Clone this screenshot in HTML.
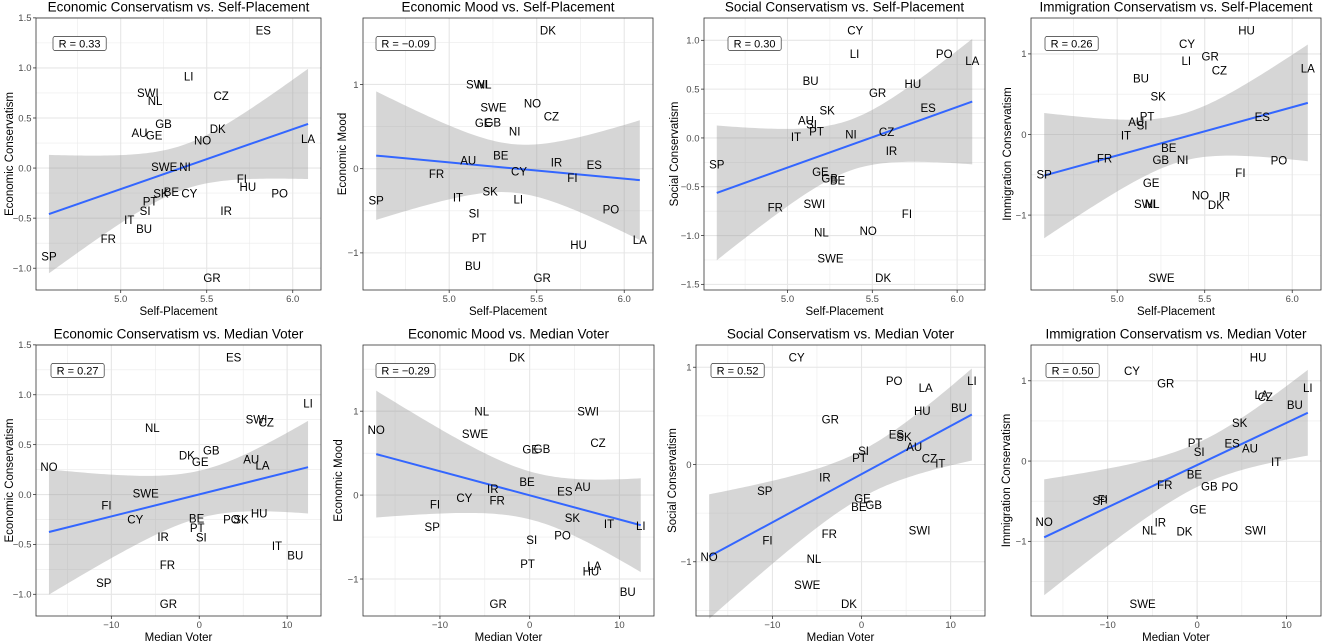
<!DOCTYPE html>
<html><head><meta charset="utf-8">
<style>
html,body{margin:0;padding:0;background:#fff;}
svg{display:block;font-family:"Liberation Sans",Arial,sans-serif;}
</style></head>
<body>
<svg id="chart" width="1322" height="642" viewBox="0 0 1322 642" xmlns="http://www.w3.org/2000/svg"></svg>
<script>
const countries = ["ES","LI","SWI","NL","CZ","GB","AU","GE","DK","NO","LA","SWE","NI","FI","HU","PO","SK","BE","CY","PT","SI","IR","IT","BU","FR","SP","GR"];
const selfPlacement = [5.829,5.395,5.158,5.200,5.584,5.249,5.109,5.194,5.564,5.476,6.089,5.253,5.374,5.704,5.739,5.924,5.234,5.295,5.399,5.171,5.142,5.613,5.050,5.136,4.928,4.583,5.531];
const medianVoter = [3.92,12.38,6.51,-5.34,7.62,1.37,5.91,0.11,-1.41,-17.1,7.2,-6.09,null,-10.55,6.82,3.66,4.76,-0.30,-7.28,-0.23,0.23,-4.11,8.84,10.93,-3.62,-10.86,-3.51];
const econCons = [1.375,0.914,0.753,0.670,0.723,0.442,0.351,0.325,0.392,0.278,0.291,0.014,0.01,-0.11,-0.187,-0.251,-0.251,-0.237,-0.251,-0.334,-0.428,-0.425,-0.515,-0.608,-0.706,-0.884,-1.094];
const econMood = [0.043,-0.366,0.998,0.998,0.62,0.552,0.099,0.544,1.642,0.776,-0.844,0.728,0.445,-0.112,-0.907,-0.482,-0.271,0.159,-0.032,-0.82,-0.533,0.075,-0.342,-1.154,-0.06,-0.378,-1.294];
const socialCons = [0.309,0.859,-0.676,-0.968,0.062,-0.415,0.182,-0.346,-1.431,-0.951,0.79,-1.236,0.038,-0.779,0.553,0.859,0.285,-0.436,1.102,0.069,0.138,-0.130,0.01,0.584,-0.711,-0.271,0.463];
const immigCons = [0.219,0.914,-0.86,-0.86,0.798,-0.312,0.157,-0.603,-0.873,-0.757,0.823,-1.776,-0.312,-0.479,1.292,-0.324,0.474,-0.167,1.126,0.228,0.116,-0.766,-0.009,0.698,-0.299,-0.495,0.968];
const xTicksSelf = [5.0,5.5,6.0];
const xTicksMedian = [-10,0,10];
const yTicksEcon = [-1.0,-0.5,0.0,0.5,1.0,1.5];
const yTicksUnit = [-1,0,1];
const yTicksSocialTop = [-1.5,-1.0,-0.5,0.0,0.5,1.0];

const panels = [
 {name:"econ-cons-self",title:"Economic Conservatism vs. Self-Placement",xt:"Self-Placement",yt:"Economic Conservatism",xs:selfPlacement,ys:econCons,xticks:xTicksSelf,yticks:yTicksEcon,xd:1,yd:1,L:36,R:321,T:18,B:290,ytx:9,rx:17},
 {name:"econ-mood-self",title:"Economic Mood vs. Self-Placement",xt:"Self-Placement",yt:"Economic Mood",xs:selfPlacement,ys:econMood,xticks:xTicksSelf,yticks:yTicksUnit,xd:1,yd:0,L:363,R:653,T:18,B:290,ytx:342,rx:13},
 {name:"social-cons-self",title:"Social Conservatism vs. Self-Placement",xt:"Self-Placement",yt:"Social Conservatism",xs:selfPlacement,ys:socialCons,xticks:xTicksSelf,yticks:yTicksSocialTop,xd:1,yd:1,L:704,R:985,T:18,B:290,ytx:674,rx:24},
 {name:"immig-cons-self",title:"Immigration Conservatism vs. Self-Placement",xt:"Self-Placement",yt:"Immigration Conservatism",xs:selfPlacement,ys:immigCons,xticks:xTicksSelf,yticks:yTicksUnit,xd:1,yd:0,L:1031,R:1321,T:18,B:290,ytx:1007,rx:14},
 {name:"econ-cons-median",title:"Economic Conservatism vs. Median Voter",xt:"Median Voter",yt:"Economic Conservatism",xs:medianVoter,ys:econCons,xticks:xTicksMedian,yticks:yTicksEcon,xd:0,yd:1,L:36,R:321,T:345,B:616,ytx:9,rx:15},
 {name:"econ-mood-median",title:"Economic Mood vs. Median Voter",xt:"Median Voter",yt:"Economic Mood",xs:medianVoter,ys:econMood,xticks:xTicksMedian,yticks:yTicksUnit,xd:0,yd:0,L:363,R:654,T:345,B:616,ytx:338,rx:13},
 {name:"social-cons-median",title:"Social Conservatism vs. Median Voter",xt:"Median Voter",yt:"Social Conservatism",xs:medianVoter,ys:socialCons,xticks:xTicksMedian,yticks:yTicksUnit,xd:0,yd:0,L:696,R:985,T:345,B:616,ytx:672,rx:15},
 {name:"immig-cons-median",title:"Immigration Conservatism vs. Median Voter",xt:"Median Voter",yt:"Immigration Conservatism",xs:medianVoter,ys:immigCons,xticks:xTicksMedian,yticks:yTicksUnit,xd:0,yd:0,L:1031,R:1321,T:345,B:616,ytx:1006,rx:15}
];

const NS = "http://www.w3.org/2000/svg";
const svg = document.getElementById("chart");
function mk(tag, attrs, parent){
  const e = document.createElementNS(NS, tag);
  for (const k in attrs) e.setAttribute(k, attrs[k]);
  (parent||svg).appendChild(e);
  return e;
}
function fmt(v, d){ const s = v.toFixed(d); return s.replace("-", "\u2212"); }

panels.forEach(p => {
  const g = mk("g", {});
  
  
  const px = [], py = [], lab = [];
  countries.forEach((c,i) => {
    if (p.xs[i] === null || p.ys[i] === null) return;
    px.push(p.xs[i]); py.push(p.ys[i]); lab.push(c);
  });
  const n = px.length;
  const xmin = Math.min(...px), xmax = Math.max(...px);
  const ymin = Math.min(...py), ymax = Math.max(...py);
  const xe = (xmax-xmin)*0.05, ye = (ymax-ymin)*0.05;
  const X0 = xmin-xe, X1 = xmax+xe, Y0 = ymin-ye, Y1 = ymax+ye;
  const sx = v => p.L + (v - X0)/(X1 - X0)*(p.R - p.L);
  const sy = v => p.B - (v - Y0)/(Y1 - Y0)*(p.B - p.T);

  // background + grid
  mk("rect", {x:p.L, y:p.T, width:p.R-p.L, height:p.B-p.T, fill:"#fff"}, g);
  const minor = (ticks, lo, hi) => {
    const out = []; const st = ticks[1]-ticks[0];
    for (let i=-1;i<ticks.length;i++){ const m = ticks[0] + st*(i+0.5); if (m>lo && m<hi) out.push(m); }
    return out;
  };
  minor(p.xticks, X0, X1).forEach(v => mk("line",{x1:sx(v),x2:sx(v),y1:p.T,y2:p.B,stroke:"#ebebeb","stroke-width":0.6},g));
  minor(p.yticks, Y0, Y1).forEach(v => mk("line",{x1:p.L,x2:p.R,y1:sy(v),y2:sy(v),stroke:"#ebebeb","stroke-width":0.6},g));
  p.xticks.forEach(v => mk("line",{x1:sx(v),x2:sx(v),y1:p.T,y2:p.B,stroke:"#e6e6e6","stroke-width":1.1},g));
  p.yticks.forEach(v => mk("line",{x1:p.L,x2:p.R,y1:sy(v),y2:sy(v),stroke:"#e6e6e6","stroke-width":1.1},g));

  // regression
  const mx = px.reduce((a,b)=>a+b,0)/n, my = py.reduce((a,b)=>a+b,0)/n;
  let sxx=0, sxy=0, syy=0;
  for (let i=0;i<n;i++){ sxx+=(px[i]-mx)**2; sxy+=(px[i]-mx)*(py[i]-my); syy+=(py[i]-my)**2; }
  const b = sxy/sxx, a = my - b*mx;
  let sse=0; for (let i=0;i<n;i++) sse += (py[i]-a-b*px[i])**2;
  const s = Math.sqrt(sse/(n-2)), t = 2.06;
  const up=[], dn=[];
  for (let k=0;k<=80;k++){
    const xv = xmin + (xmax-xmin)*k/80;
    const yh = a + b*xv, h = t*s*Math.sqrt(1/n + (xv-mx)**2/sxx);
    up.push(sx(xv).toFixed(2)+","+sy(yh+h).toFixed(2));
    dn.unshift(sx(xv).toFixed(2)+","+sy(yh-h).toFixed(2));
  }
  const rib = mk("polygon",{points:up.concat(dn).join(" "), fill:"#999", "fill-opacity":0.4}, g);
  
  
  const ln = mk("line",{x1:sx(xmin),y1:sy(a+b*xmin),x2:sx(xmax),y2:sy(a+b*xmax),stroke:"#3366FF","stroke-width":2}, g);
  
  

  // labels
  for (let i=0;i<n;i++){
    const tx = mk("text",{x:sx(px[i]),y:sy(py[i]),dy:"0.36em","text-anchor":"middle","font-size":"11.5",fill:"#000"}, g);
    tx.textContent = lab[i];
    
    
  }

  // R box
  const r = sxy/Math.sqrt(sxx*syy);
  const rg = mk("g",{}, g);
  
  
  const rt = "R = " + fmt(r, 2);
  const bw = rt.length*5.9 + 6;
  mk("rect",{x:p.L+p.rx, y:p.T+18.5, width:bw, height:14, rx:2, fill:"#fff", stroke:"#333", "stroke-width":0.7}, rg);
  const rtx = mk("text",{x:p.L+p.rx+bw/2, y:p.T+29.5, "text-anchor":"middle","font-size":"11",fill:"#000"}, rg);
  rtx.textContent = rt;

  // border
  mk("rect",{x:p.L, y:p.T, width:p.R-p.L, height:p.B-p.T, fill:"none", stroke:"#333", "stroke-width":0.8}, g);

  // ticks
  p.xticks.forEach(v => {
    mk("line",{x1:sx(v),x2:sx(v),y1:p.B,y2:p.B+3,stroke:"#333","stroke-width":0.8},g);
    const tl = mk("text",{x:sx(v),y:p.B+12,"text-anchor":"middle","font-size":"9.5",fill:"#4d4d4d"},g);
    tl.textContent = fmt(v, p.xd);
    
    
  });
  p.yticks.forEach(v => {
    mk("line",{x1:p.L-3,x2:p.L,y1:sy(v),y2:sy(v),stroke:"#333","stroke-width":0.8},g);
    const tl = mk("text",{x:p.L-4.5,y:sy(v),dy:"0.35em","text-anchor":"end","font-size":"9.5",fill:"#4d4d4d"},g);
    tl.textContent = fmt(v, p.yd);
    
    
  });

  // titles
  const tt = mk("text",{x:(p.L+p.R)/2, y:p.T-6.5, "text-anchor":"middle","font-size":"13.5",fill:"#000"}, g);
  tt.textContent = p.title;
  
  
  const xa = mk("text",{x:(p.L+p.R)/2, y:p.B+25, "text-anchor":"middle","font-size":"11.5",fill:"#000"}, g);
  xa.textContent = p.xt;
  
  
  const yc = (p.T+p.B)/2;
  const ya = mk("text",{x:p.ytx, y:yc, dy:"0.35em", "text-anchor":"middle","font-size":"11.5",fill:"#000",transform:"rotate(-90 "+p.ytx+" "+yc+")"}, g);
  ya.textContent = p.yt;
  
  
});
</script>
</body></html>
